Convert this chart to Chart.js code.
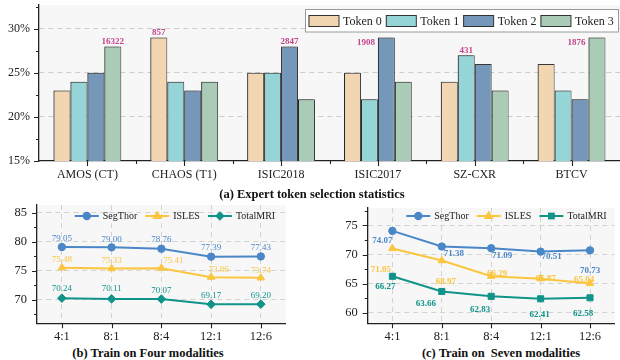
<!DOCTYPE html>
<html>
<head>
<meta charset="utf-8">
<script src="https://cdn.jsdelivr.net/npm/chart.js@4.4.1/dist/chart.umd.min.js"></script>
<style>
body { margin: 0; background: #fff; width: 620px; height: 360px; position: relative; overflow: hidden; }
canvas { position: absolute; }
.ttl { position: absolute; font: bold 12.5px 'Liberation Serif', 'DejaVu Serif', serif; line-height: 14px; color: #111; white-space: pre; transform: translateX(-50%); }
</style>
</head>
<body>
<canvas id="cA" width="620" height="185" style="left:0;top:0"></canvas>
<canvas id="cB" width="300" height="150" style="left:0;top:195px"></canvas>
<canvas id="cC" width="310" height="150" style="left:310px;top:195px"></canvas>
<div class="ttl" style="left:312px;top:187px">(a) Expert token selection statistics</div>
<div class="ttl" style="left:148px;top:346px">(b) Train on Four modalities</div>
<div class="ttl" style="left:501px;top:346px">(c) Train on  Seven modalities</div>
<script>
'use strict';
// (a) expert token selection
var datasetNames = ['AMOS (CT)', 'CHAOS (T1)', 'ISIC2018', 'ISIC2017', 'SZ-CXR', 'BTCV'];
var tokenNames   = ['Token 0', 'Token 1', 'Token 2', 'Token 3'];
var token0 = [23, 29, 25, 25, 24, 26];
var token1 = [24, 24, 25, 22, 27, 23];
var token2 = [25, 23, 28, 29, 26, 22];
var token3 = [28, 24, 22, 24, 23, 29];
var topCounts = ['16322', '857', '2847', '1908', '431', '1876'];
var topToken  = [3, 0, 2, 2, 1, 3];
var pctTicks  = [15, 17.5, 20, 22.5, 25, 27.5, 30, 32.5];

// (b) / (c) ratios
var ratios     = ['4:1', '8:1', '8:4', '12:1', '12:6'];
var seriesName = ['SegThor', 'ISLES', 'TotalMRI'];
var segFour    = [79.05, 79.00, 78.76, 77.39, 77.43];
var islesFour  = [75.48, 75.33, 75.41, 73.86, 73.74];
var mriFour    = [70.24, 70.11, 70.07, 69.17, 69.20];
var segSeven   = [74.07, 71.38, 71.09, 70.51, 70.73];
var islesSeven = [71.05, 68.97, 66.29, 65.87, 65.04];
var mriSeven   = [66.27, 63.66, 62.83, 62.41, 62.58];
var fourTicks  = [67.5, 70, 72.5, 75, 77.5, 80, 82.5, 85];
var sevenTicks = [60, 62.5, 65, 67.5, 70, 72.5, 75, 77.5];

var SERIF = "'Liberation Serif', 'DejaVu Serif', serif";
var INK   = '#222';
var cSeg = '#4a87c8', cIsles = '#fbc53f', cMri = '#10948a';

// where the little numbers sit, relative to their point
var offsFour = [
    [[0, -8], [0, -8], [0, -9.5], [0, -9], [0, -9]],
    [[0, -8], [0, -8], [12, -8], [7.5, -7], [0, -7]],
    [[0, -9.5], [0, -10], [0, -8.5], [0, -8.5], [0, -8.5]]
];
var offsSeven = [
    [[-10, 10], [12, 7], [11, 7], [11, 5], [0, 20.5]],
    [[-11.5, 21.5], [4, 21], [6, -3], [5, 0], [-6, -4]],
    [[-7, 10], [-16, 12], [-11, 13.5], [-1, 15.5], [-7, 16]]
];

function inRange(scale, v) {
    return v >= scale.min && v <= scale.max;
}

var areaBg = {
    id : 'areaBg',
    beforeDraw : function (chart) {
        var a = chart.chartArea, ctx = chart.ctx;
        ctx.save();
        ctx.fillStyle = '#f7f7f7';
        ctx.fillRect(a.left, a.top, a.right - a.left, a.bottom - a.top);
        ctx.restore();
    }
};

// tick marks (major + minor) and the y tick labels, placed by the scales
var tickMarks = {
    id : 'tickMarks',
    afterDraw : function (chart, args, opts) {
        var ctx = chart.ctx, x = chart.scales.x, y = chart.scales.y;
        ctx.save();
        ctx.strokeStyle = INK;
        ctx.lineWidth = 1.1;
        ctx.beginPath();
        y.ticks.forEach(function (t) {
            if (!inRange(y, t.value)) return;
            var py = Math.round(y.getPixelForValue(t.value)) + 0.5;
            var len = (t.value % 5 === 0) ? 5 : 3;
            ctx.moveTo(y.right - len, py);
            ctx.lineTo(y.right, py);
        });
        for (var i = 0; i < x.ticks.length; i++) {
            var px = Math.round(x.getPixelForTick(i)) + 0.5;
            ctx.moveTo(px, x.top);
            ctx.lineTo(px, x.top + 5);
            if (opts.between && i > 0) {
                var pb = Math.round((x.getPixelForTick(i) + x.getPixelForTick(i - 1)) / 2) + 0.5;
                ctx.moveTo(pb, x.top);
                ctx.lineTo(pb, x.top + 3);
            }
        }
        ctx.stroke();

        ctx.font = opts.labelSize + 'px ' + SERIF;
        ctx.fillStyle = INK;
        ctx.textAlign = 'right';
        ctx.textBaseline = 'middle';
        y.ticks.forEach(function (t) {
            if (!inRange(y, t.value) || t.value % 5 !== 0) return;
            ctx.fillText(t.value + opts.suffix, y.right - opts.labelPad, y.getPixelForValue(t.value));
        });
        ctx.restore();
    }
};

var barShadow = {
    id : 'barShadow',
    beforeDatasetsDraw : function (chart) {
        var ctx = chart.ctx;
        ctx.save();
        ctx.shadowColor = 'rgba(0,0,0,0.35)';
        ctx.shadowOffsetX = -2;
        ctx.shadowOffsetY = 0;
        ctx.shadowBlur = 0;
    },
    afterDatasetsDraw : function (chart) {
        chart.ctx.restore();
    }
};

var countLabels = {
    id : 'countLabels',
    afterDatasetsDraw : function (chart, args, opts) {
        var ctx = chart.ctx;
        ctx.save();
        ctx.font = 'bold 9px ' + SERIF;
        ctx.fillStyle = '#c4468e';
        ctx.textBaseline = 'alphabetic';
        topCounts.forEach(function (txt, i) {
            var bar = chart.getDatasetMeta(topToken[i]).data[i];
            if (opts.place[i] === 'left') {
                ctx.textAlign = 'right';
                ctx.fillText(txt, bar.x - bar.width / 2 - 3, bar.y + 7.5);
            } else {
                ctx.textAlign = 'center';
                ctx.fillText(txt, bar.x, bar.y - 2.5);
            }
        });
        ctx.restore();
    }
};

var boxLegend = {
    id : 'boxLegend',
    afterDraw : function (chart) {
        var ctx = chart.ctx;
        ctx.save();
        ctx.font = '12px ' + SERIF;
        ctx.fillStyle = '#fff';
        ctx.fillRect(305.5, 9.5, 313, 22.5);
        ctx.strokeStyle = '#9a9a9a';
        ctx.lineWidth = 1;
        ctx.strokeRect(305.5, 9.5, 313, 22.5);
        var x = 308.5;
        ctx.textBaseline = 'middle';
        ctx.textAlign = 'left';
        chart.data.datasets.forEach(function (d) {
            ctx.fillStyle = d.backgroundColor;
            ctx.fillRect(x, 15, 30.5, 12);
            ctx.strokeStyle = '#333';
            ctx.strokeRect(x + 0.5, 15.5, 30, 11);
            ctx.fillStyle = INK;
            ctx.fillText(d.label, x + 34.5, 21.5);
            x += 34.5 + ctx.measureText(d.label).width + 4;
        });
        ctx.restore();
    }
};

function marker(ctx, style, x, y, r) {
    ctx.beginPath();
    if (style === 'circle') {
        ctx.arc(x, y, r, 0, Math.PI * 2);
    } else if (style === 'triangle') {
        ctx.moveTo(x, y - r * 1.15);
        ctx.lineTo(x + r * 1.05, y + r * 0.65);
        ctx.lineTo(x - r * 1.05, y + r * 0.65);
        ctx.closePath();
    } else if (style === 'rectRot') {
        ctx.moveTo(x, y - r);
        ctx.lineTo(x + r, y);
        ctx.lineTo(x, y + r);
        ctx.lineTo(x - r, y);
        ctx.closePath();
    } else {
        var s = r * Math.SQRT1_2;
        ctx.rect(x - s, y - s, 2 * s, 2 * s);
    }
    ctx.fill();
}

var lineLegend = {
    id : 'lineLegend',
    afterDraw : function (chart, args, opts) {
        var ctx = chart.ctx, a = chart.chartArea;
        ctx.save();
        ctx.font = '10px ' + SERIF;
        ctx.textBaseline = 'middle';
        ctx.textAlign = 'left';
        var ds = chart.data.datasets;
        var widths = ds.map(function (d) { return ctx.measureText(d.label).width; });
        var total = widths.reduce(function (s, w) { return s + w; }, 0) + ds.length * 28 + (ds.length - 1) * 8;
        var x = a.right - opts.right - total, y = a.top + opts.top;
        ds.forEach(function (d, i) {
            ctx.strokeStyle = d.borderColor;
            ctx.lineWidth = 2;
            ctx.beginPath();
            ctx.moveTo(x, y);
            ctx.lineTo(x + 24, y);
            ctx.stroke();
            ctx.fillStyle = d.borderColor;
            marker(ctx, d.pointStyle, x + 12, y, d.pointRadius + 0.5);
            ctx.fillStyle = INK;
            ctx.fillText(d.label, x + 28, y + 0.5);
            x += 28 + widths[i] + 8;
        });
        ctx.restore();
    }
};

var pointLabels = {
    id : 'pointLabels',
    afterDatasetsDraw : function (chart, args, opts) {
        var ctx = chart.ctx;
        ctx.save();
        ctx.font = opts.font;
        ctx.textAlign = 'center';
        ctx.textBaseline = 'middle';
        chart.data.datasets.forEach(function (d, di) {
            ctx.fillStyle = d.borderColor;
            chart.getDatasetMeta(di).data.forEach(function (pt, i) {
                var o = opts.offsets[di][i];
                ctx.fillText(d.data[i].toFixed(2), pt.x + o[0], pt.y + o[1]);
            });
        });
        ctx.restore();
    }
};

function tickFont(size) {
    return { family : SERIF, size : size };
}

// ---------- (a) bars ----------
var tokenData   = [token0, token1, token2, token3];
var tokenColors = ['#f2d5b1', '#95d5d7', '#7597ba', '#aacbb6'];

new Chart(document.getElementById('cA').getContext('2d'), {
    type : 'bar',
    data : {
        labels : datasetNames,
        datasets : tokenNames.map(function (n, i) {
            return {
                label : n,
                data : tokenData[i],
                backgroundColor : tokenColors[i],
                borderColor : '#383838',
                borderWidth : 1,
                categoryPercentage : 0.7,
                barPercentage : 1.0
            };
        })
    },
    options : {
        responsive : false,
        animation : false,
        devicePixelRatio : 1,
        layout : { padding : { top : 5, left : 0, right : 0, bottom : 0 } },
        plugins : {
            legend : { display : false },
            tooltip : { enabled : false },
            tickMarks : { between : true, labelSize : 12, labelPad : 9, suffix : '%' },
            countLabels : { place : ['top', 'top', 'top', 'left', 'top', 'left'] }
        },
        scales : {
            x : {
                afterFit : function (s) { s.height = 24; s.paddingLeft = 0; s.paddingRight = 0; },
                grid : { display : false, drawTicks : false },
                border : { color : INK, width : 1.3 },
                ticks : { font : tickFont(12), color : INK, padding : 7, maxRotation : 0, autoSkip : false }
            },
            y : {
                min : 15,
                max : 32.7,
                afterBuildTicks : function (s) { s.ticks = pctTicks.map(function (v) { return { value : v }; }); },
                afterFit : function (s) { s.width = 39; s.paddingTop = 0; s.paddingBottom = 0; },
                grid : {
                    drawTicks : false,
                    lineWidth : 1,
                    color : function (c) {
                        var v = c.tick && c.tick.value;
                        return (v % 5 === 0 && v > 15) ? '#cdcdcd' : 'rgba(0,0,0,0)';
                    }
                },
                border : { color : INK, width : 1.3, dash : [5, 4] },
                ticks : { display : false }
            }
        }
    },
    plugins : [areaBg, barShadow, countLabels, tickMarks, boxLegend]
});

// ---------- (b) / (c) lines ----------
function lineChart(id, values, styles, ticks, min, max, yWidth, padTop, padRight, offsets, labelFont, legendTop, legendRight) {
    var colors = [cSeg, cIsles, cMri];
    return new Chart(document.getElementById(id).getContext('2d'), {
        type : 'line',
        data : {
            labels : ratios,
            datasets : seriesName.map(function (n, i) {
                return {
                    label : n,
                    data : values[i],
                    borderColor : colors[i],
                    backgroundColor : colors[i],
                    pointBackgroundColor : colors[i],
                    pointBorderColor : colors[i],
                    borderWidth : 2,
                    pointStyle : styles[i],
                    pointRadius : styles[i] === 'circle' ? 3.7 : 4.3,
                    pointBorderWidth : 1,
                    tension : 0,
                    fill : false
                };
            })
        },
        options : {
            responsive : false,
            animation : false,
            devicePixelRatio : 1,
            layout : { padding : { top : padTop, left : 0, right : padRight, bottom : 0 } },
            plugins : {
                legend : { display : false },
                tooltip : { enabled : false },
                tickMarks : { between : false, labelSize : 12.5, labelPad : 10, suffix : '' },
                pointLabels : { offsets : offsets, font : labelFont },
                lineLegend : { top : legendTop, right : legendRight }
            },
            scales : {
                x : {
                    offset : true,
                    afterFit : function (s) { s.height = 21.7; s.paddingLeft = 0; s.paddingRight = 0; },
                    grid : { offset : false, drawTicks : false, color : '#d2d2d2', lineWidth : 1 },
                    border : { color : INK, width : 1.3, dash : [5, 4] },
                    ticks : { font : tickFont(12.5), color : INK, padding : 6, maxRotation : 0, autoSkip : false }
                },
                y : {
                    min : min,
                    max : max,
                    afterBuildTicks : function (s) { s.ticks = ticks.map(function (v) { return { value : v }; }); },
                    afterFit : function (s) { s.width = yWidth; s.paddingTop = 0; s.paddingBottom = 0; },
                    grid : {
                        drawTicks : false,
                        lineWidth : 1,
                        color : function (c) {
                            return (c.tick && c.tick.value % 5 === 0) ? '#d2d2d2' : 'rgba(0,0,0,0)';
                        }
                    },
                    border : { color : INK, width : 1.3, dash : [5, 4] },
                    ticks : { display : false }
                }
            }
        },
        plugins : [areaBg, pointLabels, tickMarks, lineLegend]
    });
}

lineChart('cB', [segFour, islesFour, mriFour], ['circle', 'triangle', 'rectRot'],
    fourTicks, 65.9, 86.3, 37, 10, 14.3, offsFour, '9px ' + SERIF, 11, 10.5);

lineChart('cC', [segSeven, islesSeven, mriSeven], ['circle', 'triangle', 'rect'],
    sevenTicks, 58.2, 78.0, 57.7, 13, 2, offsSeven, 'bold 9px ' + SERIF, 8, 8);
</script>
</body>
</html>
